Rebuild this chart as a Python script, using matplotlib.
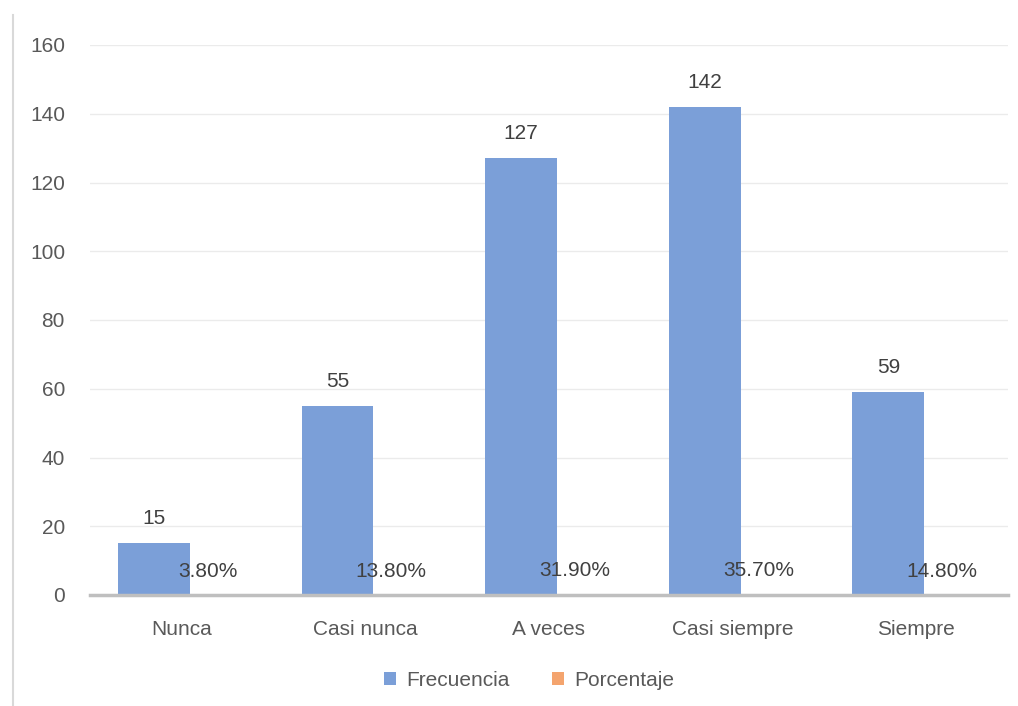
import matplotlib.pyplot as plt
import numpy as np
from matplotlib.lines import Line2D

categorias = ["Nunca", "Casi nunca", "A veces", "Casi siempre", "Siempre"]
frecuencia = [15, 55, 127, 142, 59]
porcentaje = [0.038, 0.138, 0.319, 0.357, 0.148]
etiquetas_pct = ["3.80%", "13.80%", "31.90%", "35.70%", "14.80%"]

plt.rcParams['font.family'] = ['Liberation Sans', 'DejaVu Sans']

fig = plt.figure(figsize=(10.18, 7.06), dpi=100)
ax = fig.add_axes([90 / 1018, 1 - 595 / 706, 918 / 1018, 550 / 706])

x = np.arange(len(categorias))
w = 0.392
d = 0.044  # bars sit a little right of the category centre
azul = "#7b9fd8"
naranja = "#f4a46e"
b1 = ax.bar(x - w / 2 + d, frecuencia, w, color=azul, label="Frecuencia", zorder=2)
b2 = ax.bar(x + w / 2 + d, porcentaje, w, color=naranja, label="Porcentaje", zorder=2)

ax.bar_label(b1, labels=[str(v) for v in frecuencia], padding=11, fontsize=15, color="#404040")
for xi, v, t in zip(x, porcentaje, etiquetas_pct):
    ax.annotate(t, (xi + 0.14, v), xytext=(0, 10), textcoords="offset points",
                ha="center", va="bottom", fontsize=15, color="#404040")

ax.set_xlim(-0.5, len(categorias) - 0.5)
ax.set_ylim(0, 160)
ax.set_yticks(range(0, 161, 20))
ax.set_xticks(x)
ax.set_xticklabels(categorias)
ax.tick_params(axis="both", length=0, labelsize=15, colors="#595959")
ax.tick_params(axis="x", pad=18)
ax.tick_params(axis="y", pad=18)
ax.grid(axis="y", color="#ebebeb", linewidth=1, zorder=0)
for s in ["top", "right", "left"]:
    ax.spines[s].set_visible(False)
ax.spines["bottom"].set_color("#bfbfbf")
ax.spines["bottom"].set_linewidth(2.5)
ax.spines["bottom"].set_zorder(3)

ax.legend(loc="center", bbox_to_anchor=(529 / 1018, 1 - 680 / 706), bbox_transform=fig.transFigure,
          ncol=2, frameon=False, fontsize=15, handlelength=0.6, handleheight=0.6,
          columnspacing=2.0, handletextpad=0.5, labelcolor="#595959")

fig.add_artist(Line2D([13 / 1018, 13 / 1018], [1 - 15 / 706, 0], color="#d9d9d9", linewidth=1.5))

fig.savefig("out.png", dpi=100)
